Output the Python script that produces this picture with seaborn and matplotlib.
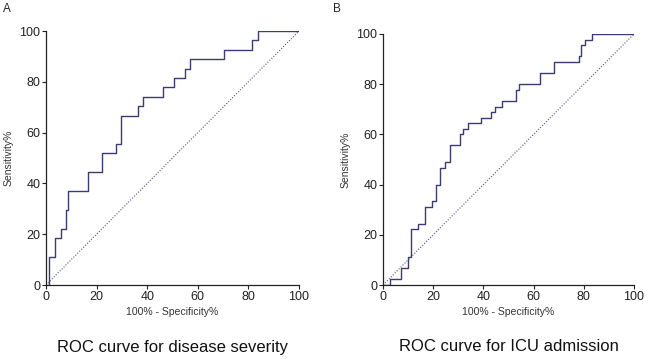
import numpy as np
import pandas as pd
import seaborn as sns
import matplotlib.pyplot as plt

sns.set_style('ticks')
plt.rcParams['font.family'] = ['Liberation Sans', 'DejaVu Sans']

# ROC step points (jump position, new sensitivity level)
fpr_a = [0, 1.3, 3.4, 5.9, 7.8, 8.8, 16.7, 22.2, 27.5, 29.6, 36.2, 38.2, 46.1,
         50.5, 54.9, 57.1, 70.3, 81.4, 83.6, 100]
tpr_a = [0, 11.1, 18.5, 22.2, 29.6, 37.0, 44.4, 51.9, 55.6, 66.7, 70.4, 74.1,
         77.8, 81.5, 85.2, 88.9, 92.6, 96.3, 100, 100]

fpr_b = [0, 2.9, 7.0, 10.0, 11.0, 13.9, 16.6, 19.5, 21.0, 22.6, 24.8, 26.6,
         30.5, 31.9, 33.9, 39.2, 43.2, 44.5, 47.5, 53.1, 54.2, 62.7, 68.1,
         78.1, 79.0, 80.6, 83.4, 100]
tpr_b = [0, 2.2, 6.7, 11.1, 22.2, 24.4, 31.1, 33.3, 40.0, 46.7, 48.9, 55.6,
         60.0, 62.2, 64.4, 66.7, 68.9, 71.1, 73.3, 77.8, 80.0, 84.4, 88.9,
         91.1, 95.6, 97.8, 100, 100]

ref_line = [0, 100]
ticks = [0, 20, 40, 60, 80, 100]

panels = [
    ('A', 'ROC curve for disease severity', fpr_a, tpr_a),
    ('B', 'ROC curve for ICU admission', fpr_b, tpr_b),
]

fig = plt.figure(figsize=(6.5, 3.59), dpi=100)
axes_pos = [[46/650, 1-285/359, 253/650, 254/359],
            [383/650, 1-285/359, 251/650, 251/359]]
label_x = [3/650, 333/650]

line_col = '#3b3b78'
for i, (letter, title, fpr, tpr) in enumerate(panels):
    ax = fig.add_axes(axes_pos[i])
    df = pd.DataFrame({'fpr': fpr, 'tpr': tpr})
    sns.lineplot(data=df, x='fpr', y='tpr', ax=ax, drawstyle='steps-post',
                 estimator=None, sort=False, color=line_col, lw=1.0)
    ax.plot(ref_line, ref_line, ls=(0, (1, 1.5)), color='#555577', lw=0.8)
    ax.set_xlim(0, 100)
    ax.set_ylim(0, 100)
    ax.set_xticks(ticks)
    ax.set_yticks(ticks)
    ax.tick_params(labelsize=9, length=3, width=0.8, colors='#222222', pad=1)
    for s in ['left', 'bottom']:
        ax.spines[s].set_linewidth(0.9)
        ax.spines[s].set_color('#222222')
    sns.despine(ax=ax)
    ax.set_xlabel('100% - Specificity%', fontsize=7.5, color='#333333', labelpad=3)
    ax.set_ylabel('Sensitivity%', fontsize=7.5, color='#333333', labelpad=4)
    ax.text(0.5, -0.215, title, transform=ax.transAxes, ha='center', va='top',
            fontsize=12, color='#111111')
    fig.text(label_x[i], 1-9/359, letter, fontsize=8.5, va='center', ha='left')

fig.savefig('out.png', dpi=100)
